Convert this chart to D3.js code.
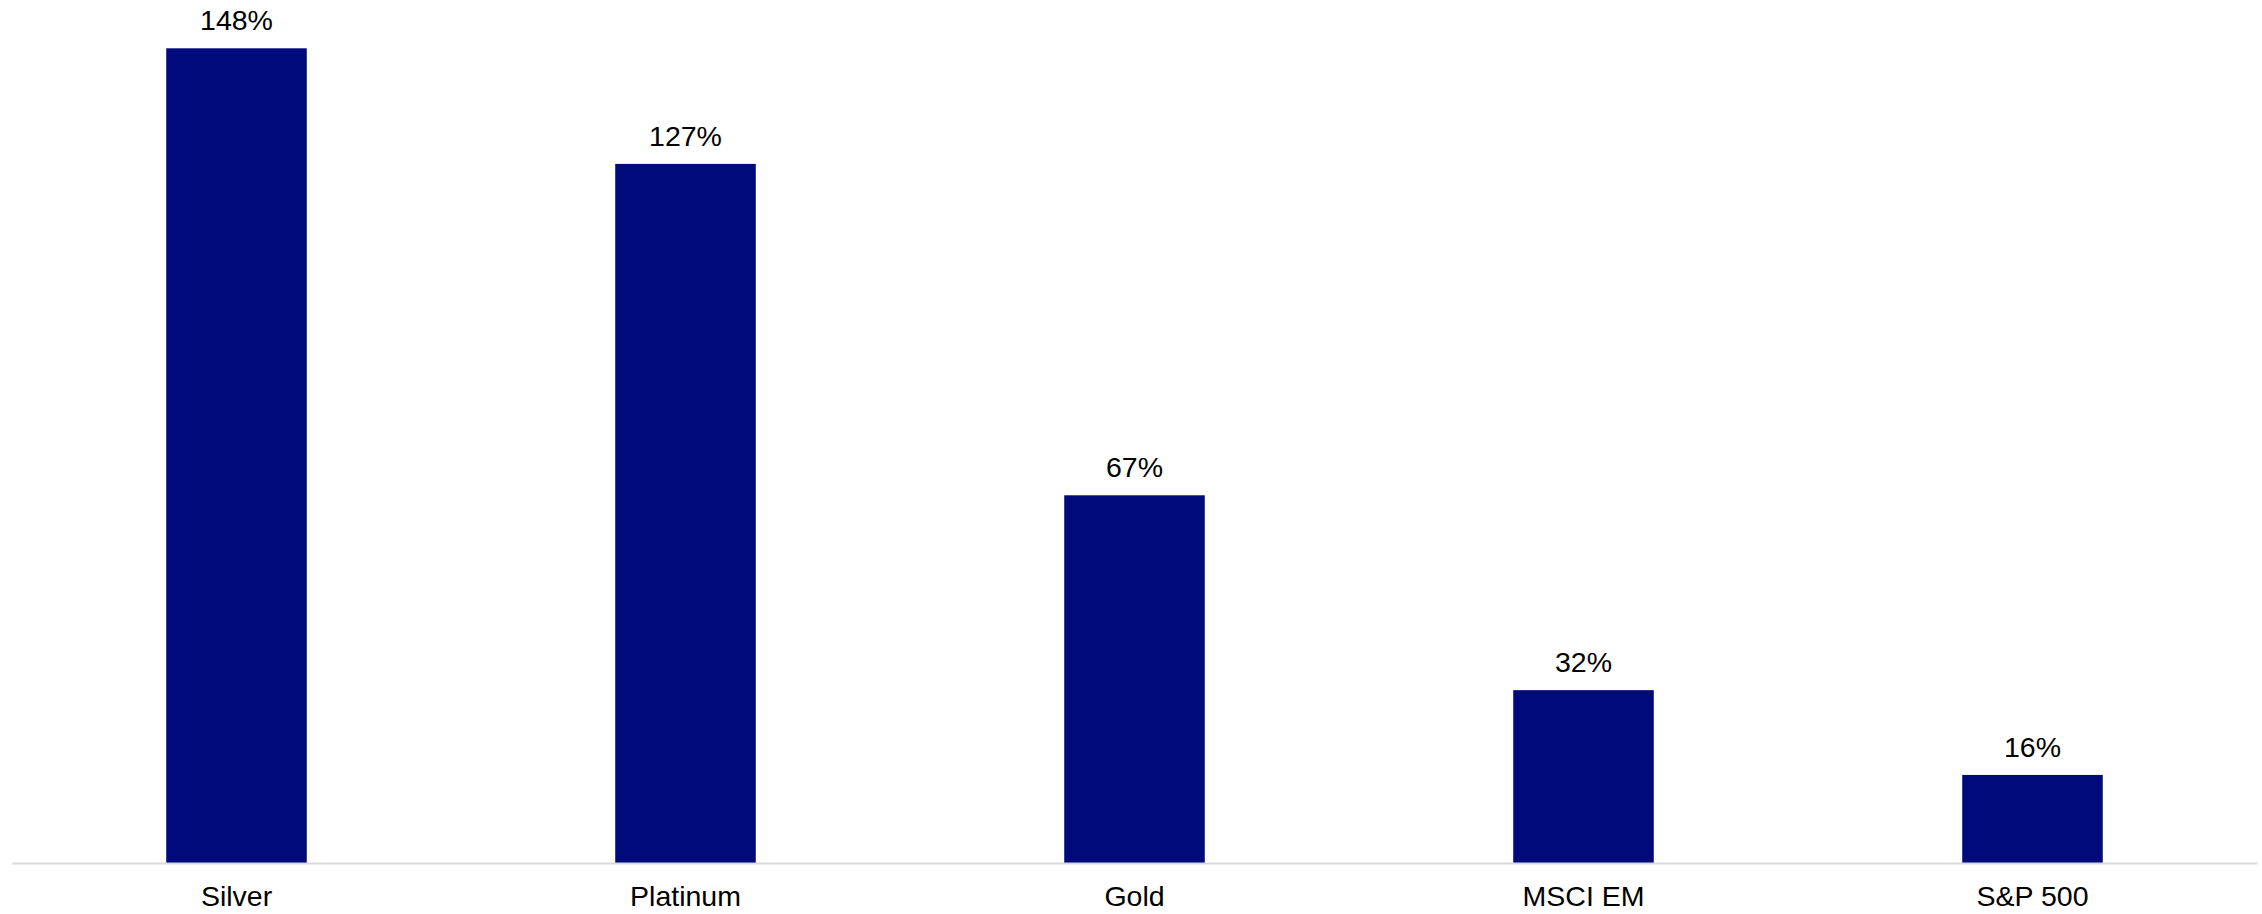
<!DOCTYPE html>
<html><head><meta charset="utf-8">
<script src="https://cdn.jsdelivr.net/npm/d3@7"></script>
<style>html,body{margin:0;padding:0;background:#fff;}svg{display:block;}</style>
</head><body>
<svg id="chart" width="2262" height="914"></svg>
<script>
const categories = ["Silver", "Platinum", "Gold", "MSCI EM", "S&P 500"];
const values = [148, 127, 66.8, 31.4, 16];
const labels = ["148%", "127%", "67%", "32%", "16%"];

const svg = d3.select("#chart");
const x = d3.scaleBand().domain(categories).range([12, 2257]).paddingInner(0.687).paddingOuter(0.3435);
const y = d3.scaleLinear().domain([0, 148]).range([863, 48.3]);

svg.selectAll("rect.bar").data(categories).join("rect")
  .attr("class", "bar")
  .attr("x", d => x(d)).attr("width", x.bandwidth())
  .attr("y", (d, i) => y(values[i])).attr("height", (d, i) => y(0) - y(values[i]))
  .attr("fill", "#000A7A");

svg.selectAll("text.val").data(categories).join("text")
  .attr("class", "val")
  .attr("x", d => x(d) + x.bandwidth() / 2)
  .attr("y", (d, i) => y(values[i]) - 18)
  .attr("text-anchor", "middle")
  .attr("font-family", "Liberation Sans, Arial, sans-serif")
  .attr("font-size", 28.5).attr("fill", "#000")
  .text((d, i) => labels[i]);

const axis = d3.axisBottom(x).tickSize(0).tickPadding(23).tickSizeOuter(0);
const g = svg.append("g").attr("transform", "translate(0,863)").call(axis);
g.select(".domain").attr("stroke", "#d9d9d9").attr("stroke-width", 2);
g.selectAll("text").attr("font-family", "Liberation Sans, Arial, sans-serif").attr("font-size", 28.5).attr("fill", "#000");
</script>
</body></html>
